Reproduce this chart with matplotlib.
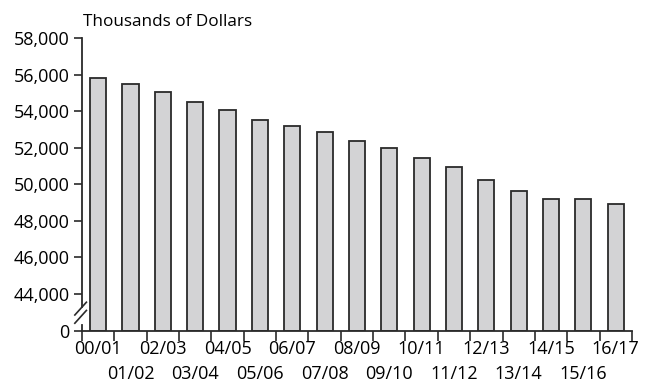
import matplotlib
matplotlib.use('Agg')
import matplotlib.pyplot as plt

# School years and values (thousands of dollars)
years = ['00/01', '01/02', '02/03', '03/04', '04/05', '05/06', '06/07', '07/08',
         '08/09', '09/10', '10/11', '11/12', '12/13', '13/14', '14/15', '15/16',
         '16/17']
values = [55810, 55480, 55040, 54510, 54060, 53510, 53215, 52850, 52380,
          51975, 51460, 50970, 50220, 49650, 49220, 49220, 48940]

# broken axis: the "0" tick sits one step below 44,000
y_ticks = [42000, 44000, 46000, 48000, 50000, 52000, 54000, 56000, 58000]
y_labels = ['0', '44,000', '46,000', '48,000', '50,000', '52,000', '54,000',
            '56,000', '58,000']
base = 42000

plt.rcParams['font.family'] = ['Open Sans', 'DejaVu Sans']
plt.rcParams['font.size'] = 13

fig = plt.figure(figsize=(6.57, 3.83), dpi=100)
ax = fig.add_axes([0.1248, 0.137, 0.837, 0.763])

x = list(range(len(years)))
heights = [v - base for v in values]
ax.bar(x, heights, bottom=base, width=0.5, color='#d3d3d5',
       edgecolor='#2a2a2a', linewidth=1.3, zorder=2)

ax.set_xlim(-0.5, len(years) - 0.5)
ax.set_ylim(base, 58000)

# y axis
ax.set_yticks(y_ticks)
ax.set_yticklabels(y_labels)
ax.tick_params(axis='y', length=6, width=1.2, color='#2a2a2a', pad=3)

# x axis: major ticks between bars, labels on minor ticks, staggered
ax.set_xticks([i - 0.5 for i in range(len(years) + 1)])
ax.set_xticklabels([])
ax.tick_params(axis='x', which='major', length=7, width=1.2, color='#2a2a2a')
ax.set_xticks(x, minor=True)
ax.set_xticklabels(years, minor=True)
ax.tick_params(axis='x', which='minor', length=0, pad=7)
for i, t in enumerate(ax.xaxis.get_minor_ticks()):
    if i % 2 == 1:
        t.set_pad(25)

for s in ['top', 'right', 'left']:
    ax.spines[s].set_visible(False)
ax.spines['bottom'].set_linewidth(1.3)
ax.spines['bottom'].set_color('#2a2a2a')

# left spine drawn in two pieces with a break
trans = ax.get_yaxis_transform()
ax.plot([0, 0], [58000, 43300], transform=trans, color='#2a2a2a', lw=1.3,
        clip_on=False)
ax.plot([0, 0], [42300, base], transform=trans, color='#2a2a2a', lw=1.3,
        clip_on=False)
for dy in [0, 450]:
    ax.plot([-0.013, 0.008], [42400 + dy, 43100 + dy], transform=trans,
            color='#2a2a2a', lw=1.2, clip_on=False)

ax.annotate('Thousands of Dollars', xy=(0, 1), xycoords='axes fraction',
            xytext=(1, 6), textcoords='offset points', ha='left',
            va='bottom', fontsize=12.3)

fig.savefig('out.png', dpi=100)
